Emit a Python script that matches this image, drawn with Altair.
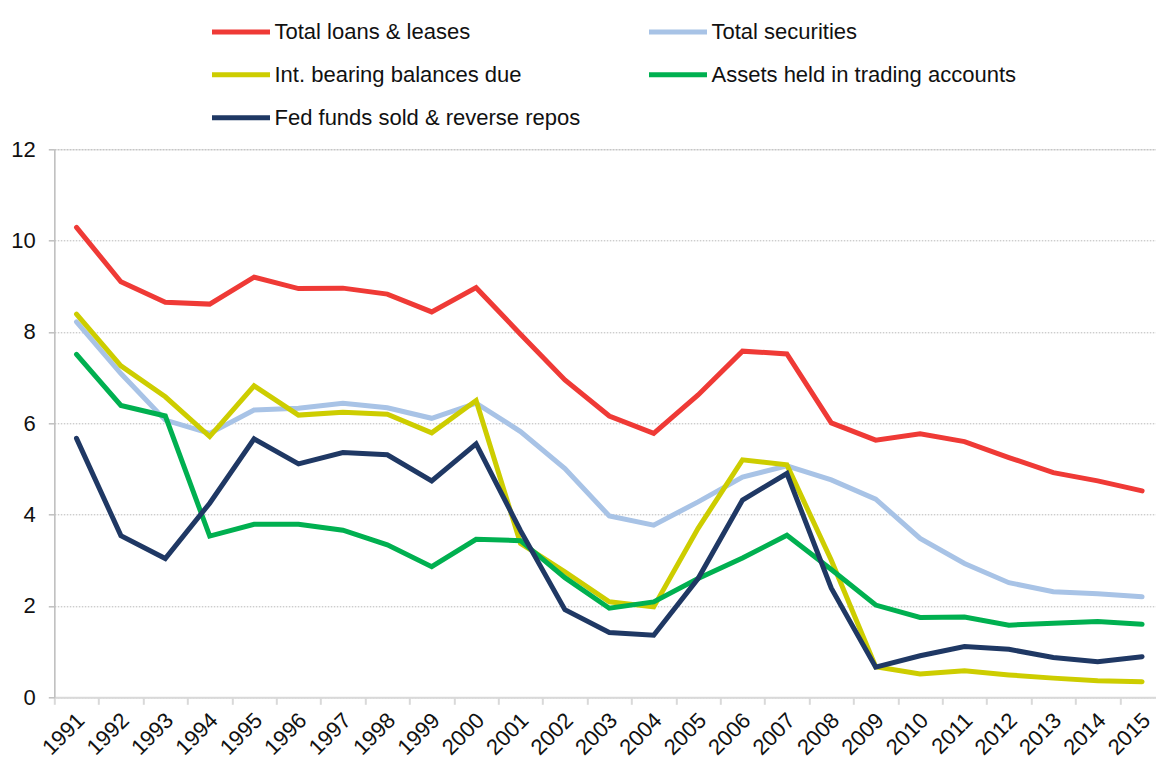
import altair as alt
import pandas as pd

years = [str(y) for y in range(1991, 2016)]
series_names = [
    "Total loans & leases",
    "Total securities",
    "Int. bearing balances due",
    "Assets held in trading accounts",
    "Fed funds sold & reverse repos",
]
series_colors = ["#ef3a36", "#a8c3e6", "#cdcd00", "#00b050", "#1f3864"]

loans = [10.29, 9.10, 8.65, 8.61, 9.20, 8.95, 8.96, 8.83, 8.44, 8.97, 7.95, 6.95, 6.16,
         5.78, 6.62, 7.58, 7.52, 6.01, 5.63, 5.77, 5.60, 5.25, 4.92, 4.74, 4.52]
securities = [8.22, 7.09, 6.07, 5.78, 6.29, 6.33, 6.44, 6.34, 6.11, 6.44, 5.82, 5.01, 3.97,
              3.77, 4.28, 4.82, 5.07, 4.76, 4.34, 3.48, 2.93, 2.51, 2.31, 2.27, 2.20]
intbearing = [8.39, 7.26, 6.58, 5.71, 6.82, 6.18, 6.24, 6.20, 5.79, 6.50, 3.37, 2.75, 2.09,
              1.98, 3.70, 5.20, 5.09, 3.00, 0.67, 0.51, 0.58, 0.49, 0.42, 0.36, 0.34]
trading = [7.51, 6.39, 6.16, 3.53, 3.79, 3.79, 3.66, 3.34, 2.86, 3.46, 3.43, 2.62, 1.95,
           2.09, 2.60, 3.05, 3.55, 2.80, 2.02, 1.75, 1.76, 1.58, 1.62, 1.66, 1.60]
fedfunds = [5.67, 3.54, 3.04, 4.25, 5.66, 5.11, 5.36, 5.31, 4.74, 5.55, 3.65, 1.92, 1.42,
            1.36, 2.60, 4.32, 4.90, 2.39, 0.66, 0.91, 1.11, 1.05, 0.87, 0.78, 0.89]
y_ticks = [0, 2, 4, 6, 8, 10, 12]

rows = []
for name, vals in zip(series_names, [loans, securities, intbearing, trading, fedfunds]):
    for order, (yr, v) in enumerate(zip(years, vals)):
        rows.append({"year": yr, "value": v, "series": name, "ord": order})
df = pd.DataFrame(rows)

FONT = "Liberation Sans"

chart = alt.Chart(df).mark_line(strokeWidth=5, strokeCap="round", strokeJoin="miter").encode(
    x=alt.X(
        "year:O",
        sort=years,
        bandPosition=0.5,
        scale=alt.Scale(type="band", paddingInner=0, paddingOuter=0, range=[0, 1110]),
        axis=alt.Axis(
            title=None,
            tickBand="extent",
            labelAngle=-45,
            labelAlign="right",
            labelBaseline="middle",
            labelFontSize=22,
            labelFont=FONT,
            labelColor="#111111",
            labelPadding=12,
            labelOffset=4,
            domainColor="#d9d9d9",
            domainWidth=2,
            tickColor="#d9d9d9",
            tickWidth=2,
            tickSize=7,
            grid=False,
        ),
    ),
    y=alt.Y(
        "value:Q",
        scale=alt.Scale(domain=[0, 12], nice=False, zero=True),
        axis=alt.Axis(
            title=None,
            values=y_ticks,
            labelFontSize=22,
            labelFont=FONT,
            labelColor="#111111",
            labelPadding=13,
            domainColor="#bfbfbf",
            domainWidth=1.5,
            tickColor="#bfbfbf",
            tickWidth=1.5,
            tickSize=6,
            grid=True,
            gridColor="#b8b8b8",
            gridDash=[1.5, 1.5],
            gridWidth=1,
        ),
    ),
    color=alt.Color(
        "series:N",
        sort=series_names,
        scale=alt.Scale(domain=series_names, range=series_colors),
        legend=alt.Legend(
            title=None,
            orient="none",
            direction="horizontal",
            legendX=155.2,
            legendY=-149.1,
            columns=2,
            columnPadding=58,
            rowPadding=-19.7,
            padding=0,
            symbolType="stroke",
            symbolSize=3364,
            symbolStrokeWidth=5,
            labelFontSize=22,
            labelFont=FONT,
            labelColor="#111111",
            labelOffset=2,
            labelLimit=0,
        ),
    ),
    order=alt.Order("ord:Q"),
).properties(
    width=1101.7,
    height=548,
    autosize=alt.AutoSizeParams(type="none"),
    padding={"left": 46.3, "top": 141.3, "right": 0, "bottom": 64.7},
).configure_view(
    stroke=None
).configure(
    background="white"
)

chart.save("out.html", embed_options={"renderer": "svg", "actions": False})
